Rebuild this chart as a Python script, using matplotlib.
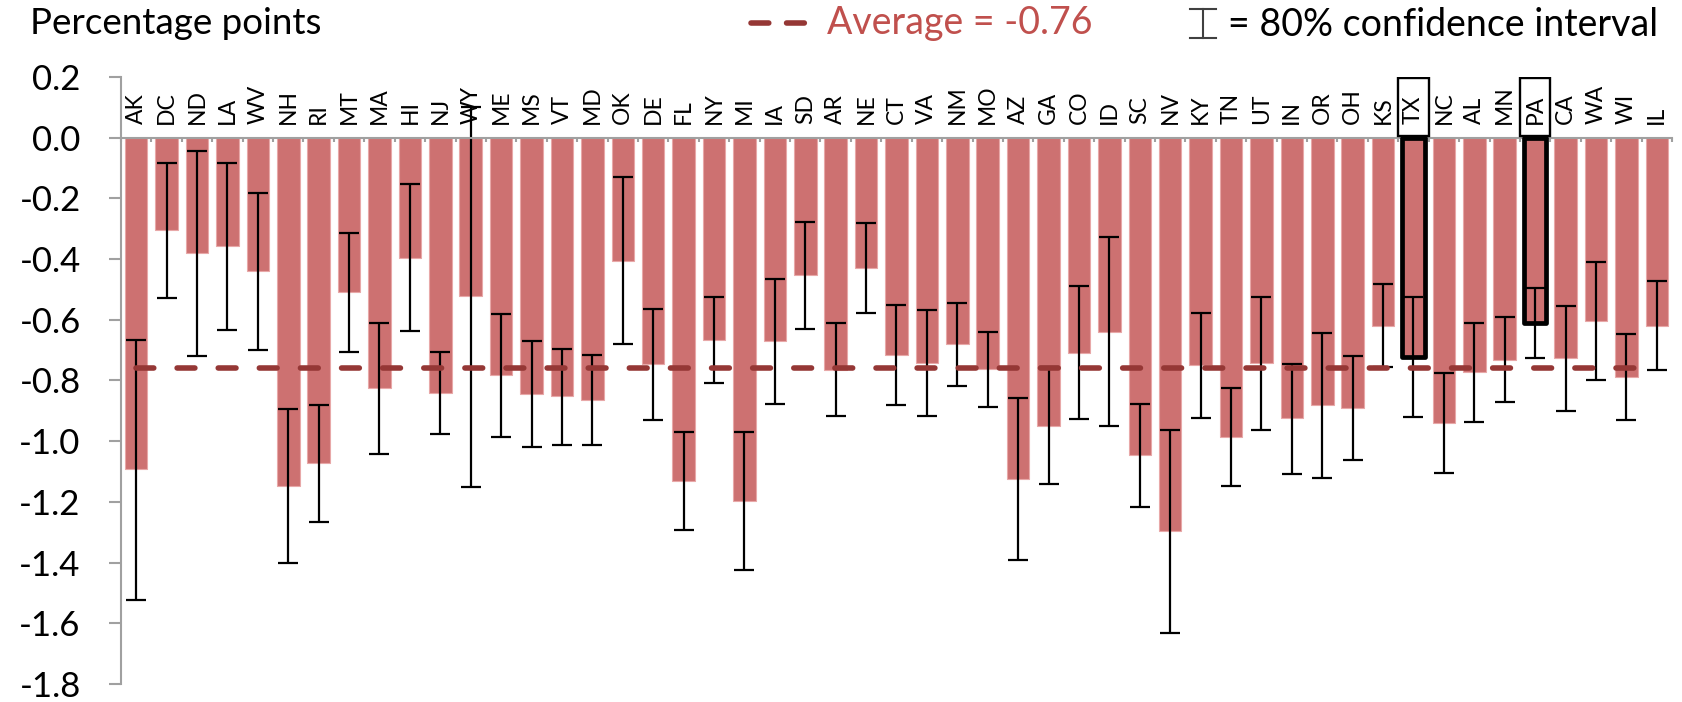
import matplotlib
matplotlib.use("Agg")
import matplotlib.pyplot as plt
from matplotlib.patches import Rectangle
from matplotlib.lines import Line2D
import numpy as np

plt.rcParams['font.family'] = ['Lato', 'DejaVu Sans']
plt.rcParams['axes.unicode_minus'] = False

states = ["AK", "DC", "ND", "LA", "WV", "NH", "RI", "MT", "MA", "HI", "NJ", "WY", "ME", "MS",
          "VT", "MD", "OK", "DE", "FL", "NY", "MI", "IA", "SD", "AR", "NE", "CT", "VA", "NM",
          "MO", "AZ", "GA", "CO", "ID", "SC", "NV", "KY", "TN", "UT", "IN", "OR", "OH", "KS",
          "TX", "NC", "AL", "MN", "PA", "CA", "WA", "WI", "IL"]
values = [-1.093, -0.305, -0.379, -0.357, -0.438, -1.147, -1.073, -0.510, -0.825, -0.396,
          -0.842, -0.521, -0.783, -0.845, -0.852, -0.865, -0.405, -0.746, -1.131, -0.666,
          -1.198, -0.671, -0.454, -0.766, -0.428, -0.716, -0.743, -0.681, -0.763, -1.124,
          -0.949, -0.708, -0.640, -1.047, -1.297, -0.749, -0.985, -0.743, -0.925, -0.881,
          -0.890, -0.619, -0.724, -0.940, -0.773, -0.732, -0.611, -0.727, -0.603, -0.789,
          -0.619]
ci_high = [-0.666, -0.084, -0.043, -0.082, -0.183, -0.895, -0.882, -0.314, -0.609, -0.154,
           -0.707, 0.100, -0.581, -0.671, -0.695, -0.717, -0.131, -0.565, -0.970, -0.524,
           -0.970, -0.465, -0.279, -0.612, -0.282, -0.552, -0.569, -0.544, -0.639, -0.859,
           -0.757, -0.490, -0.328, -0.877, -0.963, -0.576, -0.824, -0.524, -0.744, -0.642,
           -0.718, -0.483, -0.525, -0.776, -0.609, -0.592, -0.496, -0.554, -0.409, -0.647,
           -0.472]
ci_low = [-1.523, -0.527, -0.718, -0.633, -0.698, -1.401, -1.266, -0.706, -1.043, -0.637,
          -0.977, -1.152, -0.986, -1.019, -1.011, -1.014, -0.680, -0.930, -1.293, -0.808,
          -1.425, -0.878, -0.631, -0.918, -0.576, -0.881, -0.917, -0.817, -0.886, -1.390,
          -1.140, -0.928, -0.951, -1.218, -1.631, -0.923, -1.147, -0.964, -1.107, -1.120,
          -1.063, -0.756, -0.920, -1.105, -0.937, -0.872, -0.727, -0.902, -0.800, -0.931,
          -0.766]
highlight = ["TX", "PA"]
average = -0.76
yticks = [0.2, 0.0, -0.2, -0.4, -0.6, -0.8, -1.0, -1.2, -1.4, -1.6, -1.8]

W, H = 1683, 702
fig = plt.figure(figsize=(W / 100, H / 100), dpi=100)
ax = fig.add_axes([121 / W, 1 - 684 / H, (1672 - 121) / W, (684 - 77) / H])

x = np.arange(len(states))
vals = np.array(values)
lo = vals - np.array(ci_low)
hi = np.array(ci_high) - vals

bar_color = '#CD7171'
ax.bar(x, vals, width=0.74, color=bar_color, edgecolor='#E8A8A8', linewidth=0.8, zorder=2)
ax.errorbar(x, vals, yerr=[lo, hi], fmt='none', ecolor='black', elinewidth=1.6,
            capsize=7.5, capthick=1.6, zorder=3)

# highlight outlines
for s in highlight:
    i = states.index(s)
    ax.bar(i, values[i], width=0.74, facecolor='none', edgecolor='black',
           linewidth=3.4, zorder=3.5, joinstyle='round')
    ax.add_patch(Rectangle((i - 0.5, 0.007), 1.0, 0.19, fill=False,
                           edgecolor='black', linewidth=1.7, zorder=4))

# average line
ax.plot([x[0], x[-1]], [average, average], color='#953735', linewidth=4.0,
        dashes=(3.2, 4.2), dash_capstyle='round', zorder=4)

# state labels
for i, s in enumerate(states):
    ax.text(i, 0.045, s, rotation=90, ha='center', va='bottom', fontsize=16.5,
            color='black', zorder=5)

ax.set_xlim(-0.5, len(states) - 0.5)
ax.set_ylim(-1.8, 0.2)
ax.set_yticks(yticks)
ax.set_yticklabels([f"{t:.1f}" for t in yticks], fontsize=25)
ax.set_xticks(np.arange(-0.5, len(states), 1.0))
ax.set_xticklabels([])
ax.spines['top'].set_visible(False)
ax.spines['right'].set_visible(False)
ax.spines['bottom'].set_position(('data', 0))
for sp in ['left', 'bottom']:
    ax.spines[sp].set_color('#A0A0A0')
    ax.spines[sp].set_linewidth(1.5)
ax.spines['bottom'].set_zorder(3)
ax.tick_params(axis='y', direction='out', length=9, width=1.5, color='#A0A0A0', pad=20)
ax.tick_params(axis='x', direction='out', length=3, width=1.5, color='#A0A0A0')

# titles / legend
def fx(px):
    return px / W

def fy(py):
    return 1 - py / H

fig.text(fx(30), fy(34), "Percentage points", fontsize=26.5, ha='left', va='baseline')

fig.add_artist(Line2D([fx(751), fx(808)], [fy(23), fy(23)], color='#953735', linewidth=4.0,
                      dashes=(3.2, 3.2), dash_capstyle='round', transform=fig.transFigure))
fig.text(fx(827), fy(34), f"Average = {average:.2f}", fontsize=27, color='#C0504D',
         ha='left', va='baseline')

cx = 1203
col = '#404040'
fig.add_artist(Line2D([fx(cx), fx(cx)], [fy(9), fy(38)], color=col, linewidth=1.5,
                      transform=fig.transFigure))
fig.add_artist(Line2D([fx(cx - 13), fx(cx + 13)], [fy(9), fy(9)], color=col, linewidth=1.5,
                      transform=fig.transFigure))
fig.add_artist(Line2D([fx(cx - 13), fx(cx + 13)], [fy(38), fy(38)], color=col, linewidth=1.5,
                      transform=fig.transFigure))
fig.text(fx(1228), fy(36), "= 80% confidence interval", fontsize=27, color='black',
         ha='left', va='baseline')

fig.savefig("out.png", dpi=100)
